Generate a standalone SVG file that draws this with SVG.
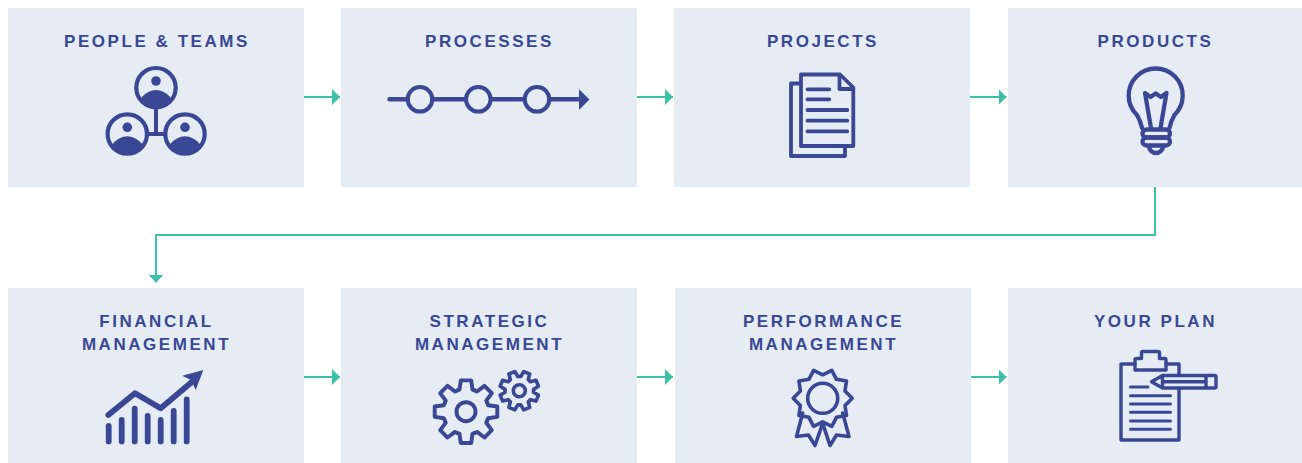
<svg xmlns="http://www.w3.org/2000/svg" xmlns:xlink="http://www.w3.org/1999/xlink" width="1302" height="463" viewBox="0 0 1302 463">
<style>
.box{fill:#e5ecf3}
.t{font-family:"Liberation Sans",Arial,sans-serif;font-weight:700;font-size:17px;letter-spacing:2.55px;fill:#3a4795;text-anchor:middle}
.ln{fill:none;stroke:#3a4795;stroke-linecap:round;stroke-linejoin:round}
.fl{fill:#3a4795}
.c{fill:none;stroke:#3cc0a8;stroke-width:2}
</style>
<defs>
<marker id="ah" markerUnits="userSpaceOnUse" markerWidth="9" markerHeight="16" refX="8" refY="8" orient="auto"><path d="M0 0L8 8L0 16Z" fill="#3cc0a8"/></marker>
<g id="person"><circle r="19.700" class="ln" stroke-width="4.200"/><circle cy="-6.700" r="4.800" class="fl"/><path class="fl" d="M-16 11.500C-11 5 -5 2.300 0 2.300S11 5 16 11.500A19.700 19.700 0 0 1 -16 11.500Z"/></g>
<path id="tooth" d="M-8.800 -21.250L-6.500 -22.100L-5.200 -31.300L5.200 -31.300L6.500 -22.100L8.800 -21.250"/>
<g id="gear"><use href="#tooth"/><use href="#tooth" transform="rotate(45)"/><use href="#tooth" transform="rotate(90)"/><use href="#tooth" transform="rotate(135)"/><use href="#tooth" transform="rotate(180)"/><use href="#tooth" transform="rotate(225)"/><use href="#tooth" transform="rotate(270)"/><use href="#tooth" transform="rotate(315)"/></g>
</defs>
<g id="connectors">
<path class="c" marker-end="url(#ah)" d="M304 97H340"/>
<path class="c" marker-end="url(#ah)" d="M637 97H673"/>
<path class="c" marker-end="url(#ah)" d="M970 97H1006.500"/>
<path class="c" marker-end="url(#ah)" d="M1155 187V235H156V282.500"/>
<path class="c" marker-end="url(#ah)" d="M304 377H340"/>
<path class="c" marker-end="url(#ah)" d="M637 377H673"/>
<path class="c" marker-end="url(#ah)" d="M970 377H1006.500"/>
</g>
<g id="people-teams"><rect class="box" x="8" y="8" width="296" height="179"/><text class="t" x="157" y="47">PEOPLE &amp; TEAMS</text>
<path class="ln" stroke-width="4" d="M156 108V134M148 134H165"/>
<use href="#person" x="156" y="87.700"/><use href="#person" x="127.300" y="134"/><use href="#person" x="185" y="134"/></g>
<g id="processes"><rect class="box" x="341" y="8" width="296" height="179"/><text class="t" x="489.500" y="47">PROCESSES</text>
<path class="ln" stroke-width="4.400" d="M389.500 99.300H408M432.500 99.300H466M491 99.300H524.500M549.500 99.300H580"/>
<circle class="ln" stroke-width="4" cx="420" cy="99.300" r="12.300"/><circle class="ln" stroke-width="4" cx="478.300" cy="99.300" r="12.300"/><circle class="ln" stroke-width="4" cx="537" cy="99.300" r="12.300"/>
<path class="fl" d="M579 89.300L589.500 99.500L579 110Z"/></g>
<g id="projects"><rect class="box" x="674" y="8" width="296" height="179"/><text class="t" x="823" y="47">PROJECTS</text>
<g class="ln" stroke-width="3.800"><path d="M801 83.500H791V156H845V146"/><path d="M801 74.500H840L853.300 87.500V146H801Z"/><path d="M839.500 75V89H853"/><path stroke-width="3.800" d="M807.500 89.300H829.300M807.500 99.300H829.300M807.500 110H847.300M807.500 120.700H847.300M807.500 131.300H847.300"/></g></g>
<g id="products"><rect class="box" x="1008" y="8" width="296" height="179"/><text class="t" x="1155.500" y="47">PRODUCTS</text>
<g class="ln" stroke-width="4.300"><path d="M1142 128Q1141 122 1137 115A27 27 0 1 1 1174.400 115Q1170.500 122 1169.500 128"/><path d="M1151 128L1145 93L1150.500 97L1155.700 93.500L1161 97L1166.500 93L1160.500 128"/><rect x="1142.500" y="129.500" width="27.500" height="8" rx="4"/><rect x="1142.500" y="137.500" width="27.500" height="8" rx="4"/><path d="M1149 146A7 7 0 0 0 1163 146"/></g></g>
<g id="financial-management"><rect class="box" x="8" y="288" width="296" height="175"/><text class="t" x="156.500" y="327">FINANCIAL</text><text class="t" x="156.500" y="350">MANAGEMENT</text>
<g class="ln" stroke-width="5.800"><path d="M108.700 426V441.400M121.700 420V441.400M134.700 408.600V441.400M147.700 416V441.400M160.700 420V441.400M173.700 411V441.400M186.700 399.300V441.400"/><path d="M108.300 415L135 393.300L160.700 408.300L193 381"/></g>
<path class="fl" d="M203.300 370L182.300 375.700L191 380L195.700 390Z"/></g>
<g id="strategic-management"><rect class="box" x="341" y="288" width="296" height="175"/><text class="t" x="489.500" y="327">STRATEGIC</text><text class="t" x="489.500" y="350">MANAGEMENT</text>
<use class="ln" stroke-width="3.900" href="#gear" transform="translate(466 411.700)"/><circle class="ln" stroke-width="3.900" cx="466" cy="411.700" r="9.500"/>
<use class="ln" stroke-width="5.800" href="#gear" transform="translate(519.300 390.700) rotate(22.500) scale(.62)"/><circle class="ln" stroke-width="3.600" cx="519.300" cy="390.700" r="6"/></g>
<g id="performance-management"><rect class="box" x="675" y="288" width="296" height="175"/><text class="t" x="823.500" y="327">PERFORMANCE</text><text class="t" x="823.500" y="350">MANAGEMENT</text>
<g class="ln" stroke-width="3.600"><path transform="translate(822.700 398.300)" d="M29.500 0L22.300 7.300L23.800 17.200L13.800 19L9.100 28L0 23.500L-9.100 28L-13.800 19L-23.800 17.200L-22.300 7.300L-29.500 0L-22.300 -7.300L-23.800 -17.200L-13.800 -19L-9.100 -28L0 -23.500L9.100 -28L13.800 -19L23.800 -17.200L22.300 -7.300Z"/><circle cx="822.700" cy="398.300" r="15"/><path d="M802.700 413L796.500 436.500L808.500 435L815 445.500L822.700 423.300L830 445.500L836.500 435L849 436.500L842.700 413"/></g></g>
<g id="your-plan"><rect class="box" x="1008" y="288" width="296" height="175"/><text class="t" x="1155.500" y="327">YOUR PLAN</text>
<g class="ln" stroke-width="3.400"><path d="M1135 364H1121V440H1179V389M1179 375V364H1166"/><path d="M1135 370V360Q1135 358.500 1136.500 358.500H1141.500V353Q1141.500 351.500 1143 351.500H1158Q1159.500 351.500 1159.500 353V358.500H1164.500Q1166 358.500 1166 360V370Z"/><path d="M1162.500 375.500H1214.500Q1216 375.500 1216 377V386.500Q1216 388 1214.500 388H1162.500L1151.500 381.700ZM1162.500 375.500V388M1162.500 381.700H1206M1206 375.500V388"/><path stroke-width="3" d="M1130.500 387H1148M1130.500 395.700H1170.500M1130.500 404H1170.500M1130.500 412.300H1170.500M1130.500 421H1170.500M1130.500 429.300H1170.500"/></g></g>
</svg>
